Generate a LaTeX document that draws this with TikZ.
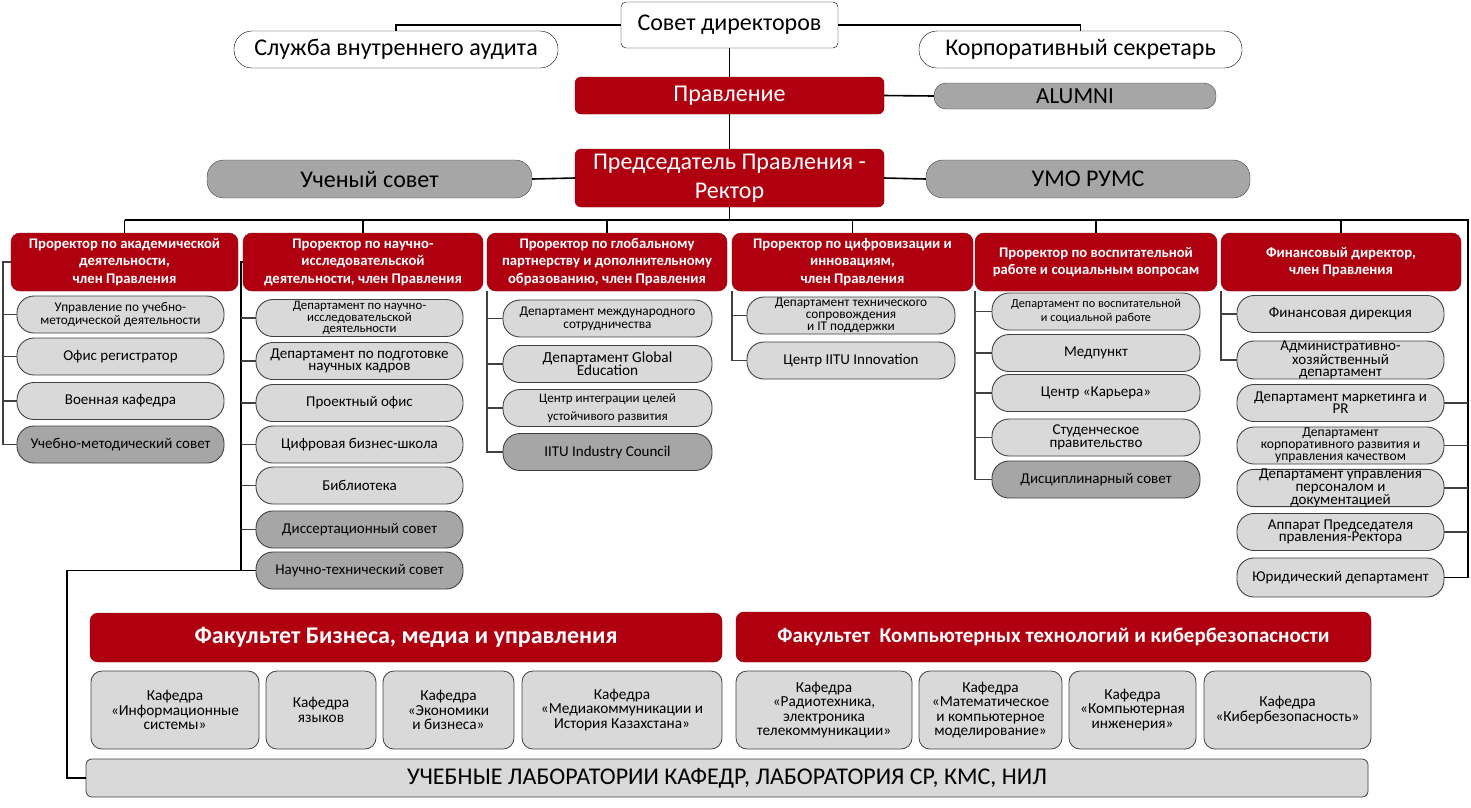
\documentclass[tikz,border=0pt]{standalone}
\usepackage{fontspec}
\setmainfont{Carlito}
\usepackage{tikz}
\usetikzlibrary{
  calc,
  positioning
}
\definecolor{iitured}{RGB}{176,0,15}
\definecolor{lightbox}{RGB}{217,217,217}
\definecolor{darkbox}{RGB}{166,166,166}
\definecolor{rimgray}{RGB}{64,64,64}
\newcommand{\fs}[2]{\fontsize{#1}{#2}\selectfont}

\begin{document}
\begin{tikzpicture}[x=1pt, y=-1pt,
  wh/.style 2 args = {minimum width=#1, minimum height=#2},
  plain/.style = {rectangle, draw, align=center, inner sep=0pt, fill=white, font=\fs{24}{28}},
  redbox/.style = {rectangle, draw=iitured!75!black, fill=iitured, text=white, rounded corners=6, align=center, inner sep=0pt},
  greypill/.style = {rectangle, draw=rimgray, fill=darkbox, rounded corners=17, align=center, inner sep=0pt, font=\fs{24}{28}},
  prorector/.style = {redbox, wh={#1}{58}, rounded corners=9, font=\bfseries\fs{14.7}{17.5}},
  unit/.style = {rectangle, draw=rimgray, line width=0.9pt, fill=lightbox, rounded corners=17, wh={207}{37}, inner sep=0pt, align=center, font=\fs{15}{12.6}},
  council/.style = {unit, fill=darkbox},
  chair/.style = {rectangle, draw=rimgray, line width=0.8pt, fill=lightbox, rounded corners=11, minimum height=78, inner sep=0pt, align=center, font=\fs{15.3}{14.3}},
  link/.style = {draw, line width=1.6pt},
  tick/.style = {draw=black!75, line width=1.1pt}]
\useasboundingbox (0,0) rectangle (1471,807);
% nodes
\node[plain, rounded corners=5, wh={217}{46}] (sovet) at (729.5,25) {Совет директоров};
\node[plain, rounded corners=18, wh={324}{37}] (audit) at (396,49.5) {Служба внутреннего аудита};
\node[plain, rounded corners=18, wh={323}{37}] (secretary) at (1080.5,49.5) {Корпоративный секретарь};
\node[redbox, wh={309}{37}, font=\fs{24}{28}] (mgmt) at (729.5,95.5) {Правление};
\node[greypill, wh={282}{26}, rounded corners=12, font=\fs{23}{26}] (alumni) at (1075,96) {ALUMNI};
\node[redbox, wh={309}{58}, font=\fs{24}{29}] (rector) at (729.5,178) {Председатель Правления -\\Ректор};
\node[greypill, wh={325}{38}] (scouncil) at (369.5,179) {Ученый совет};
\node[greypill, wh={324}{38}] (umo) at (1088,179) {УМО РУМС};

\node[prorector=227] (p1) at (124.5,262) {Проректор по академической\\деятельности,\\член Правления};
\node[prorector=240] (p2) at (363,262) {Проректор по научно-\\исследовательской\\деятельности, член Правления};
\node[prorector=240] (p3) at (607,262) {Проректор по глобальному\\партнерству и дополнительному\\образованию, член Правления};
\node[prorector=241] (p4) at (852.5,262) {Проректор по цифровизации и\\инновациям,\\член Правления};
\node[prorector=242] (p5) at (1096,262) {Проректор по воспитательной\\работе и социальным вопросам};
\node[prorector=240] (p6) at (1341,262) {Финансовый директор,\\член Правления};

% academic
\node[unit, font=\fs{13.3}{12.3}] (p1u1) at (120.5,314.5) {Управление по учебно-\\методической деятельности};
\node[unit] (p1u2) at (120.5,356.5) {Офис регистратор};
\node[unit] (p1u3) at (120.5,401) {Военная кафедра};
\node[council] (p1u4) at (120.5,444.5) {Учебно-методический совет};

% research
\node[unit, font=\fs{12.8}{11.5}] (p2u1) at (359.5,318) {Департамент по научно-\\исследовательской\\деятельности};
\node[unit] (p2u2) at (359.5,361) {Департамент по подготовке\\научных кадров};
\node[unit] (p2u3) at (359.5,403) {Проектный офис};
\node[unit] (p2u4) at (359.5,444.5) {Цифровая бизнес-школа};
\node[unit] (p2u5) at (359.5,485.5) {Библиотека};
\node[council] (p2u6) at (359.5,529.5) {Диссертационный совет};
\node[council] (p2u7) at (359.5,570.5) {Научно-технический совет};

% global
\node[unit, font=\fs{13.3}{12.7}, minimum width=209] (p3u1) at (607.5,318.5) {Департамент международного\\сотрудничества};
\node[unit, font=\fs{15.3}{13.3}, minimum width=209] (p3u2) at (607.5,364) {Департамент Global\\Education};
\node[unit, font=\fs{13}{17.3}, minimum width=209] (p3u3) at (607.5,408) {Центр интеграции целей\\устойчивого развития};
\node[council, minimum width=209] (p3u4) at (607.5,452) {IITU Industry Council};

% digital
\node[unit, font=\fs{13.3}{11.8}, minimum width=208] (p4u1) at (851,315.5) {Департамент технического\\сопровождения\\и IT поддержки};
\node[unit, minimum width=208] (p4u2) at (851,360.5) {Центр IITU Innovation};

% student affairs
\node[unit, font=\fs{12.2}{14.7}, minimum width=208] (p5u1) at (1096,311.5) {Департамент по воспитательной\\и социальной работе};
\node[unit, minimum width=208] (p5u2) at (1096,353) {Медпункт};
\node[unit, minimum width=208] (p5u3) at (1096,393) {Центр «Карьера»};
\node[unit, minimum width=208] (p5u4) at (1096,437.5) {Студенческое\\правительство};
\node[council, minimum width=208] (p5u5) at (1096,479.5) {Дисциплинарный совет};

% finance
\node[unit] (p6u1) at (1340.5,314) {Финансовая дирекция};
\node[unit, font=\fs{15}{12.3}] (p6u2) at (1340.5,360) {Административно-\\хозяйственный\\департамент};
\node[unit, font=\fs{15}{12.3}] (p6u3) at (1340.5,403) {Департамент маркетинга и\\PR};
\node[unit, font=\fs{13.6}{11.8}] (p6u4) at (1340.5,445.5) {Департамент\\корпоративного развития и\\управления качеством};
\node[unit, font=\fs{15}{12.6}] (p6u5) at (1340.5,488) {Департамент управления\\персоналом и\\документацией};
\node[unit, font=\fs{15}{12.3}] (p6u6) at (1340.5,532) {Аппарат Председателя\\правления-Ректора};
\node[unit, minimum height=39] (p6u7) at (1340.5,577.5) {Юридический департамент};

% faculties
\node[redbox, wh={632}{49}, rounded corners=8, font=\bfseries\fs{24}{28}] (fbm) at (406,637.5) {Факультет Бизнеса, медиа и управления};
\node[redbox, wh={635}{50}, rounded corners=8, font=\bfseries\fs{21}{24}] (fcs) at (1053.5,637) {Факультет\ \ Компьютерных технологий и кибербезопасности};

\node[chair, minimum width=168] (k1) at (175,710) {Кафедра\\«Информационные\\системы»};
\node[chair, minimum width=110] (k2) at (321,710) {Кафедра\\языков};
\node[chair, minimum width=131] (k3) at (448.5,710) {Кафедра\\«Экономики\\и бизнеса»};
\node[chair, minimum width=200] (k4) at (622,710) {Кафедра\\«Медиакоммуникации и\\История Казахстана»};
\node[chair, minimum width=176] (k5) at (824,710) {Кафедра\\«Радиотехника,\\электроника\\телекоммуникации»};
\node[chair, minimum width=143] (k6) at (990.5,710) {Кафедра\\«Математическое\\и компьютерное\\моделирование»};
\node[chair, minimum width=127] (k7) at (1132.5,710) {Кафедра\\«Компьютерная\\инженерия»};
\node[chair, minimum width=167] (k8) at (1287.5,710) {Кафедра\\«Кибербезопасность»};

\node[rectangle, draw=rimgray, line width=0.8pt, fill=lightbox, rounded corners=6, wh={1282}{38}, font=\fs{24}{28}] (labs) at (727,778) {УЧЕБНЫЕ ЛАБОРАТОРИИ КАФЕДР, ЛАБОРАТОРИЯ СР, КМС, НИЛ};

% helper coordinates
\coordinate (bus) at (0,220);
\coordinate (busend) at (1468,220);
\coordinate (s1) at (3,262);
\coordinate (s2) at (241,262);
\coordinate (s3) at (487,291);
\coordinate (s4) at (732,291);
\coordinate (s5) at (975,291);
\coordinate (s6) at (1221,291);
\coordinate (bend) at (67,0);

% connections
\draw[link] (sovet.west) -| (audit.north);
\draw[link] (sovet.east) -| (secretary.north);
\draw[link] (sovet.south) -- (mgmt.north);
\draw[link] (mgmt.south) -- (rector.north);
\draw[link] (mgmt.east) -- (alumni.west);
\draw[link] (scouncil.east) -- (rector.west);
\draw[link] (rector.east) -- (umo.west);
\draw[link] (rector.south) -- (rector.south |- bus);
\draw[link] (p1.north |- bus) -- (busend) |- (p6u7.east);
\foreach \p in {p1,p2,p3,p4,p5,p6}
  \draw[link] (\p.north) -- (\p.north |- bus);

\draw[tick] (p1.west) -- (s1) |- (p1u4.west);
\foreach \i in {1,2,3}
  \draw[tick] (p1u\i.west) -- (s1 |- p1u\i.west);
\draw[link, line width=1.3pt] (p2.west) -- (s2) |- (p2u7.west);
\foreach \i in {1,...,6}
  \draw[tick] (p2u\i.west) -- (s2 |- p2u\i.west);
\draw[link] (s2 |- p2u7.west) -- (bend |- p2u7.west) |- (labs.west);
\draw[tick] (s3) |- (p3u4.west);
\foreach \i in {1,2,3}
  \draw[tick] (p3u\i.west) -- (s3 |- p3u\i.west);
\draw[tick] (s4) |- (p4u2.west);
\draw[tick] (p4u1.west) -- (s4 |- p4u1.west);
\draw[tick] (s5) |- (p5u5.west);
\foreach \i in {1,...,4}
  \draw[tick] (p5u\i.west) -- (s5 |- p5u\i.west);
\draw[tick] (s6) |- (p6u2.west);
\draw[tick] (p6u1.west) -- (s6 |- p6u1.west);
\foreach \i in {3,...,6}
  \draw[tick] (p6u\i.east) -- (busend |- p6u\i.east);
\end{tikzpicture}
\end{document}
